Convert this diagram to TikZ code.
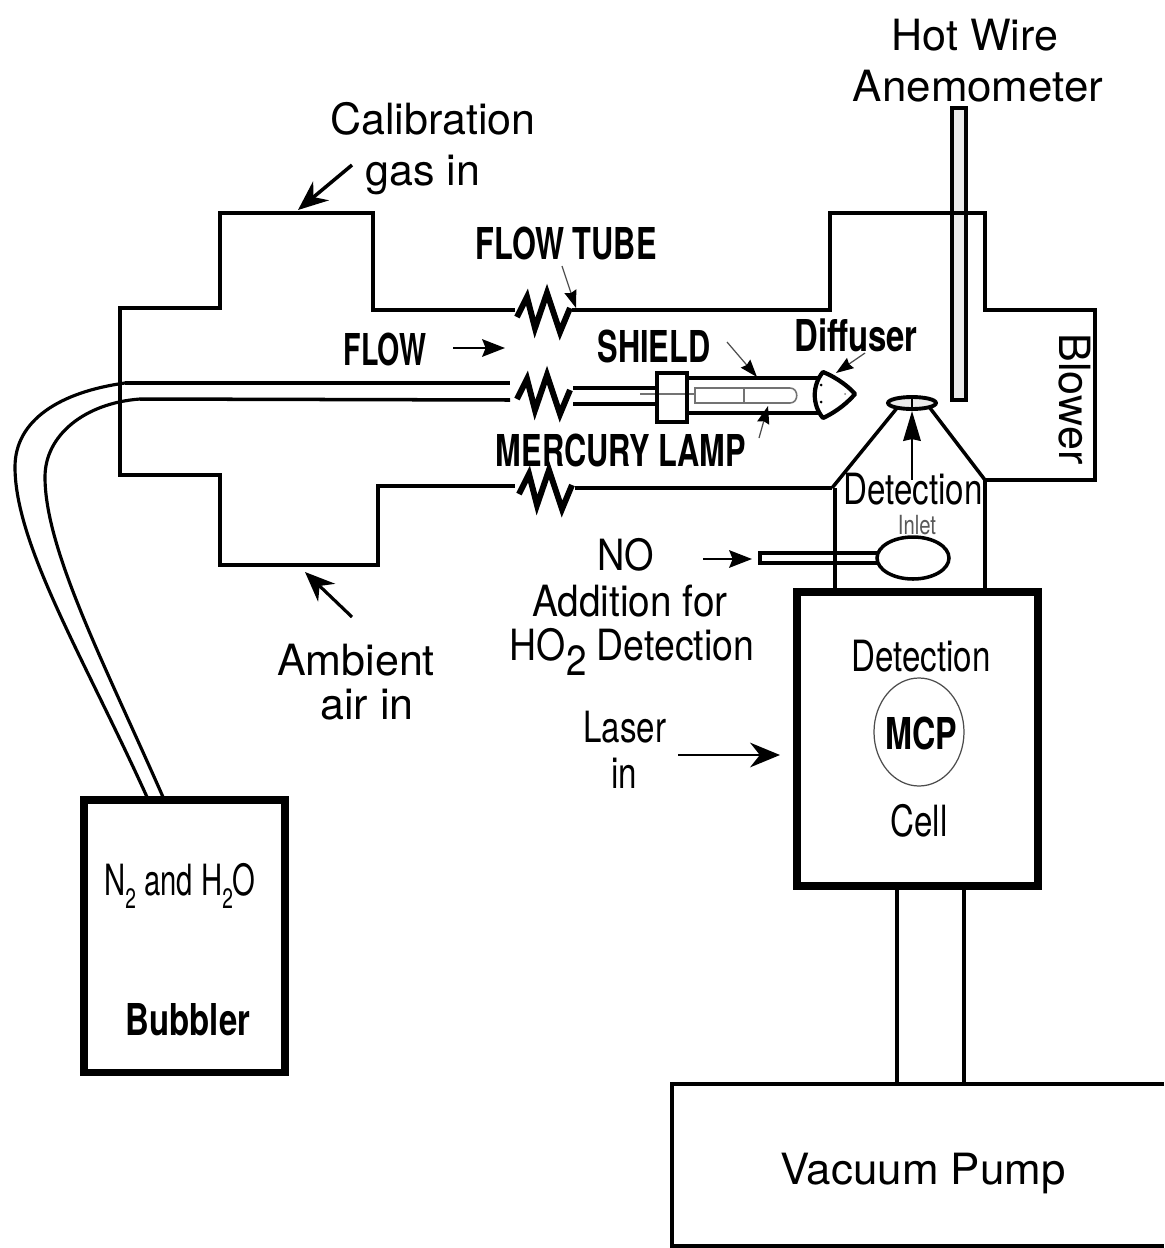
\documentclass[tikz,border=0pt]{standalone}
\usepackage{fontspec}
\setmainfont{TeX Gyre Heros}
\usetikzlibrary{arrows.meta}
\newcommand{\lowtwo}[2]{\raisebox{#1}{\fontsize{#2}{#2}\selectfont 2}}
\tikzset{
  wall/.style={line width=2pt},
  thickwall/.style={line width=4pt},
  thin grey line/.style={line width=.9pt, black!55},
  label text/.style={font=\fontsize{24.5}{28}\selectfont, inner sep=0pt, align=center},
  narrow text/.style={label text, transform shape, xscale=.77},
  bold text/.style={font=\fontsize{25}{28}\bfseries\selectfont, inner sep=0pt, transform shape, xscale=.7},
  big arrow/.style={line width=2pt, -{Stealth[length=17pt,width=14pt]}},
  mid arrow/.style={line width=1.2pt, -{Stealth[length=13pt,width=10pt,inset=2pt]}},
  lead arrow/.style={line width=.7pt, black!70, -{Stealth[length=10pt,width=7pt,inset=1pt,black]}},
  zigzag/.pic={
    \draw[line width=3.4pt, line join=miter] (0,7) -- (10,-13) -- (18,18) -- (30,-17) -- (43,22) -- (53,-2);
  }
}
\begin{document}
\begin{tikzpicture}[x=0.02cm, y=-0.02cm]
  \useasboundingbox (0,0) rectangle (1164,1248);

  % hot wire
  \draw[line width=1.8pt, draw=black, fill=black!8] (952,108) rectangle (966,400);

  % flow tube
  \draw[wall] (515,310) -- (373,310) -- (373,213) -- (220,213) -- (220,308) -- (120,308)
    -- (120,475) -- (220,475) -- (220,565) -- (378,565) -- (378,486) -- (515,486);
  \draw[wall] (572,310) -- (830,310) -- (830,213) -- (985,213) -- (985,310) -- (1095,310)
    -- (1095,480) -- (985,480);
  \draw[wall] (575,488) -- (832,488);
  \pic at (517,310) {zigzag};
  \pic at (517,392) {zigzag};
  \pic at (519,487) {zigzag};

  % detection inlet
  \draw[wall] (832,488) -- (897,408);
  \draw[wall] (985,480) -- (930,408);
  \draw[wall] (835,488) -- (835,590);
  \draw[wall] (985,480) -- (985,590);
  \draw[line width=2.2pt, fill=black!8] (912,403) ellipse[x radius=24, y radius=6];
  \draw[line width=1pt] (912,397) -- (912,409);

  % bubbler lines
  \draw[line width=1.8pt] (147,797) .. controls (85,660) and (15,545) .. (15,467)
    .. controls (15,420) and (60,392) .. (125,383);
  \draw[wall] (125,383) -- (510,383);
  \draw[line width=1.8pt] (163,797) .. controls (105,665) and (45,550) .. (45,477)
    .. controls (45,435) and (85,403) .. (140,399);
  \draw[wall] (140,399) -- (510,400);

  % lamp and shield
  \draw[line width=2.2pt] (573,388) -- (657,388);
  \draw[line width=2.2pt] (573,404) -- (657,404);
  \draw[thin grey line] (640,394) -- (695,394);
  \draw[line width=2.4pt] (657,373) rectangle (687,422);
  \draw[line width=2.4pt] (687,378) -- (820,378);
  \draw[line width=2.4pt] (687,413) -- (820,413);
  \draw[thin grey line] (695,388) -- (790,388) .. controls (799,388) and (799,403) .. (790,403) -- (695,403) -- cycle;
  \draw[thin grey line] (744,388) -- (744,403);

  % diffuser
  \draw[line width=2.4pt, line join=round] (823,372) .. controls (838,378) and (850,388) .. (855,394)
    .. controls (848,402) and (838,411) .. (823,418) .. controls (812,405) and (812,385) .. (823,372) -- cycle;
  \fill (821,385) circle[radius=1.5];
  \fill (821,402) circle[radius=1.5];
  \fill[black!50] (845,394) circle[radius=1];

  % NO tube
  \draw[line width=1.8pt] (878,553) -- (760,553) -- (760,563) -- (878,563);
  \draw[line width=2pt] (913,558) ellipse[x radius=36, y radius=21];

  % boxes
  \draw[thickwall] (797,592) rectangle (1038,886);
  \draw[thickwall] (84,800) rectangle (285,1072);
  \draw[line width=2.2pt] (1164,1084) -- (672,1084) -- (672,1246) -- (1164,1246);
  \draw[wall] (897,886) -- (897,1084);
  \draw[wall] (964,886) -- (964,1084);
  \draw[line width=.7pt, black!70] (919,732) ellipse[x radius=45, y radius=54];

  % arrows
  \draw[big arrow] (352,165) -- (298,210);
  \draw[big arrow, line width=1.8pt] (352,617) -- (305,572);
  \draw[mid arrow] (453,348) -- (505,348);
  \draw[lead arrow] (562,266) -- (576,308);
  \draw[lead arrow] (727,342) -- (757,377);
  \draw[lead arrow] (865,353) -- (836,373);
  \draw[lead arrow] (759,438) -- (768,406);
  \draw[line width=1.2pt, -{Stealth[length=17pt,width=10pt,inset=1pt]}] (912,480) -- (912,411);
  \draw[mid arrow] (703,559) -- (752,559);
  \draw[big arrow, line width=1.6pt] (678,755) -- (780,755);

  % labels
  \node[label text] (hot wire) at (975,35) {Hot Wire};
  \node[label text, xscale=1.02, transform shape] (anemometer) at (978,86) {Anemometer};
  \node[label text] (calibration) at (433,119) {Calibration};
  \node[label text] (gas in) at (423,175) {gas in};
  \node[bold text] (flow tube) at (566,243) {FLOW TUBE};
  \node[bold text, xscale=.93] (flow) at (385,349) {FLOW};
  \node[bold text] (shield) at (654,346) {SHIELD};
  \node[bold text, xscale=1.07] (diffuser) at (856,335) {Diffuser};
  \node[bold text] (mercury lamp) at (621,450) {MERCURY LAMP};
  \node[label text, rotate=-90] (blower) at (1075,399) {Blower};
  \node[narrow text] (detection inlet) at (913,489) {Detection};
  \node[narrow text, font=\fontsize{15}{15}\selectfont, black!65] (inlet) at (917,525) {Inlet};
  \node[label text, transform shape, xscale=.88] (no) at (626,555) {NO};
  \node[label text, transform shape, xscale=.9] (addition) at (630,601) {Addition for};
  \node[label text, transform shape, xscale=.87] (ho2) at (632,652) {HO\lowtwo{-.35em}{24}\ Detection};
  \node[label text] (ambient) at (356,660) {Ambient};
  \node[label text] (air in) at (367,705) {air in};
  \node[narrow text] (laser) at (625,727) {Laser};
  \node[narrow text] (laser in) at (624,773) {in};
  \node[narrow text] (detection cell) at (921,656) {Detection};
  \node[bold text, xscale=1.05] (mcp) at (921,733) {MCP};
  \node[narrow text] (cell) at (919,821) {Cell};
  \node[label text, transform shape, xscale=.68] (gases) at (180,886) {N\lowtwo{-.3em}{16} and H\lowtwo{-.3em}{16}O};
  \node[bold text, xscale=1.07] (bubbler) at (188,1020) {Bubbler};
  \node[label text, xscale=1.02, transform shape] (vacuum pump) at (923,1173) {Vacuum Pump};
\end{tikzpicture}
\end{document}
